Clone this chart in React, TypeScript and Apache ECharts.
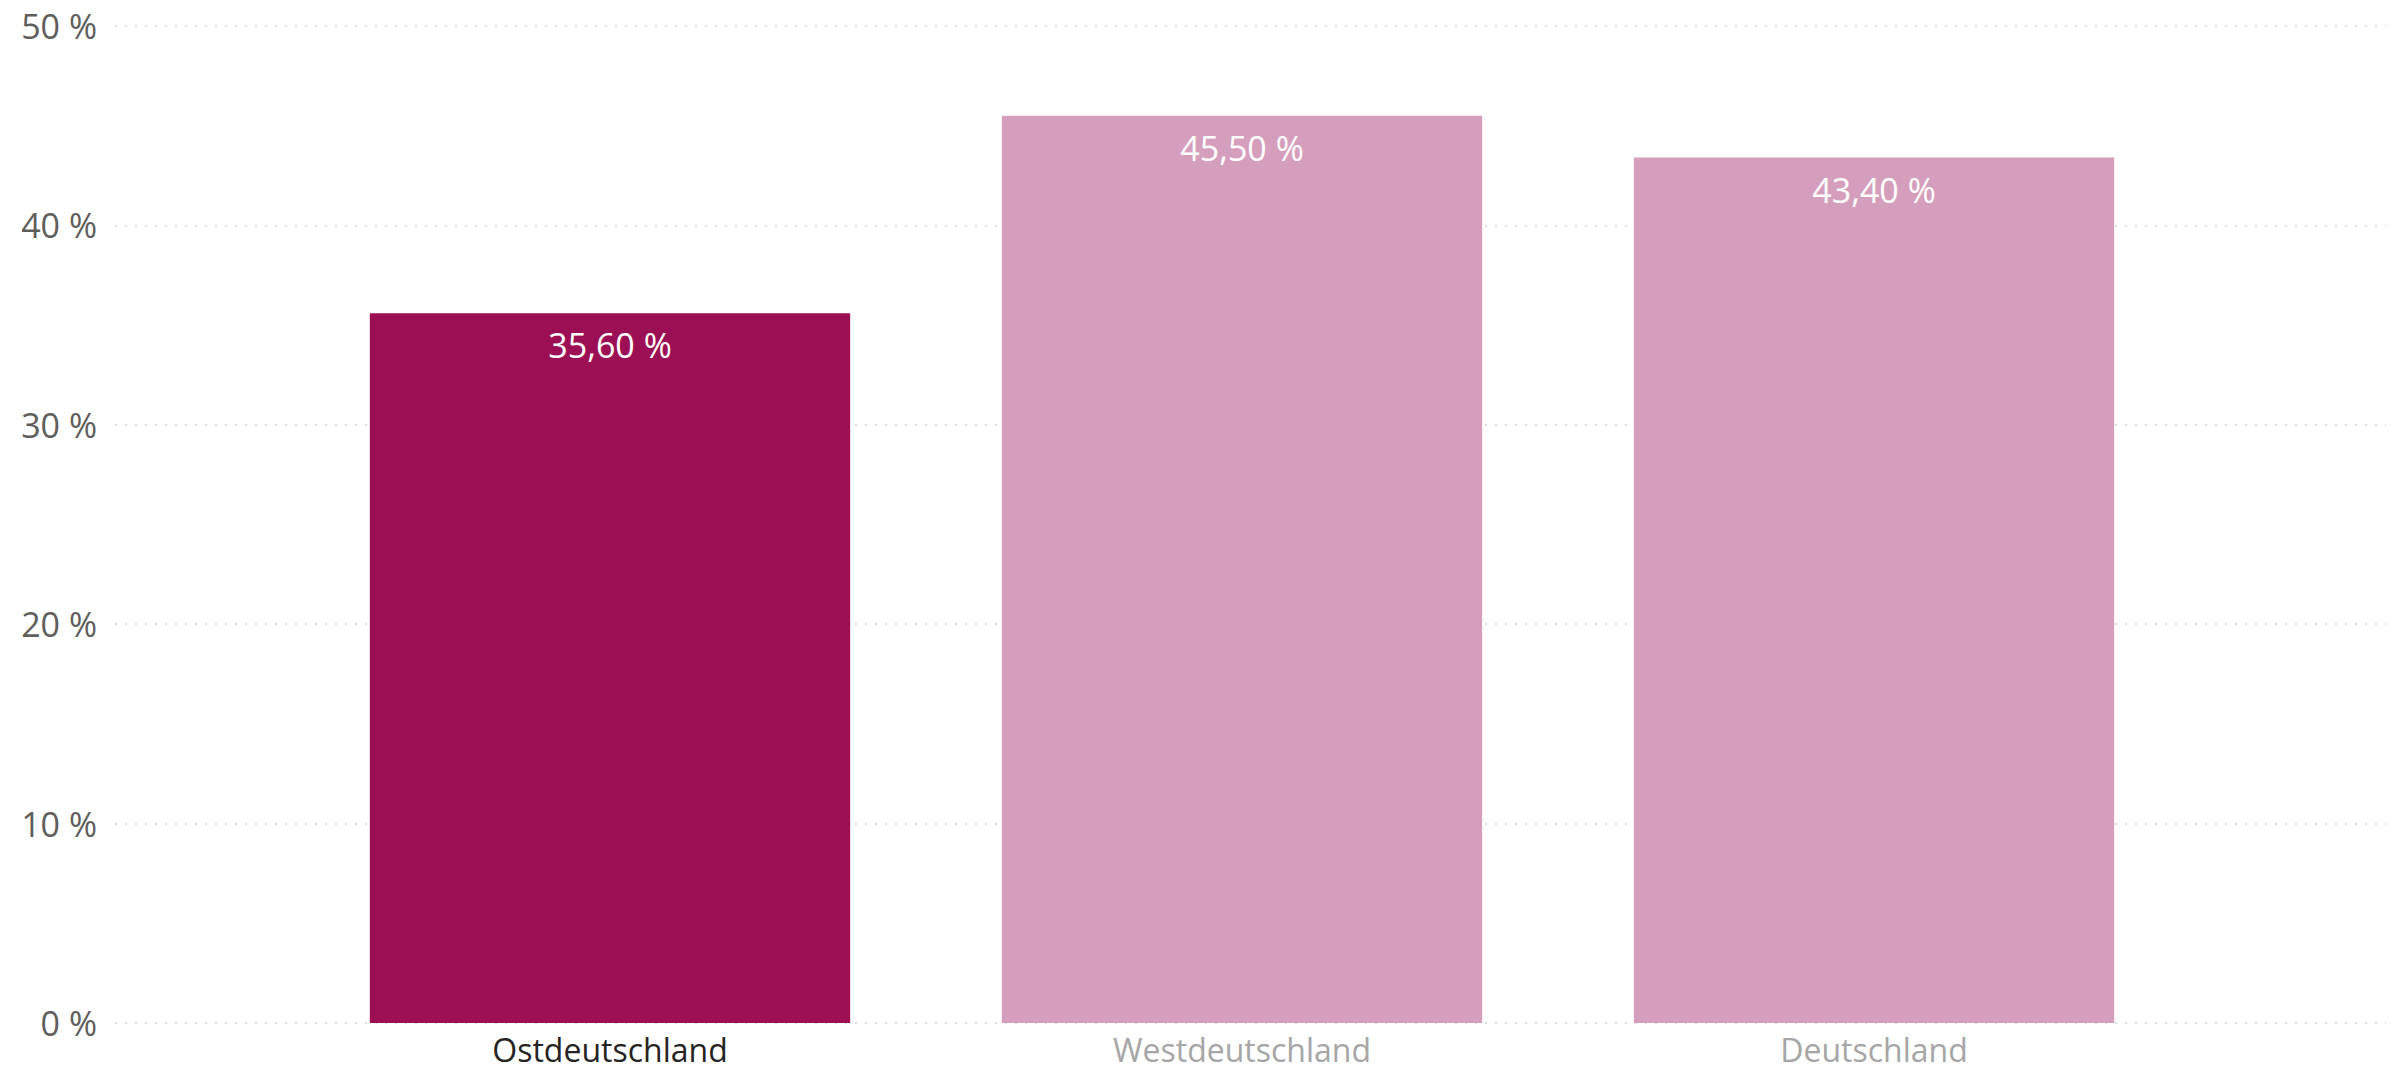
import React, { useEffect, useRef } from "react";
import * as echarts from "echarts";

const categories = ["Ostdeutschland", "Westdeutschland", "Deutschland"];
const values = [35.6, 45.5, 43.4];
const barColors = ["#9C0F55", "#D69EBD", "#D69EBD"];
const labelColors = ["#252423", "#A6A6A6", "#A6A6A6"];
const yTicks = [0, 10, 20, 30, 40, 50];

const FONT = "'Open Sans', 'Noto Sans', sans-serif";

export default function App() {
  const ref = useRef<HTMLDivElement>(null);
  useEffect(() => {
    if (!ref.current) return;
    const chart = echarts.init(ref.current, undefined, { renderer: "svg" });
    const yMax = yTicks[yTicks.length - 1];
    const yInterval = yTicks[1] - yTicks[0];
    chart.setOption({
      animation: false,
      backgroundColor: "#ffffff",
      textStyle: { fontFamily: FONT },
      grid: [
        { left: 115, right: 20, top: 26, bottom: 52 },
        { left: 294, right: 216, top: 26, bottom: 52 },
      ],
      xAxis: [
        { type: "category", gridIndex: 0, data: categories, show: false },
        {
          type: "category",
          gridIndex: 1,
          data: categories,
          axisLine: { show: false },
          axisTick: { show: false },
          axisLabel: {
            fontSize: 32,
            lineHeight: 32,
            fontFamily: FONT,
            margin: 10,
            color: (_v: string, i: number) => labelColors[i],
          },
        },
      ],
      yAxis: [
        {
          type: "value",
          gridIndex: 0,
          min: 0,
          max: yMax,
          interval: yInterval,
          axisLine: { show: false },
          axisTick: { show: false },
          axisLabel: {
            formatter: "{value} %",
            fontSize: 34,
            fontFamily: FONT,
            color: "#605E5C",
            margin: 18,
          },
          splitLine: {
            show: true,
            lineStyle: { color: "#DCDCDC", width: 2, type: [2, 8] },
          },
        },
        {
          type: "value",
          gridIndex: 1,
          min: 0,
          max: yMax,
          interval: yInterval,
          show: false,
          splitLine: { show: false },
        },
      ],
      series: [
        {
          type: "bar",
          xAxisIndex: 1,
          yAxisIndex: 1,
          barWidth: "76%",
          data: values.map((v, i) => ({
            value: v,
            itemStyle: { color: barColors[i] },
          })),
          label: {
            show: true,
            position: "insideTop",
            distance: 15,
            color: "#ffffff",
            fontSize: 34,
            fontFamily: FONT,
            formatter: (p: any) => p.value.toFixed(2).replace(".", ",") + " %",
          },
        },
      ],
    });
    return () => chart.dispose();
  }, []);
  return (
    <div
      ref={ref}
      style={{ position: "fixed", left: 0, top: 0, width: "100vw", height: "100vh" }}
    />
  );
}
